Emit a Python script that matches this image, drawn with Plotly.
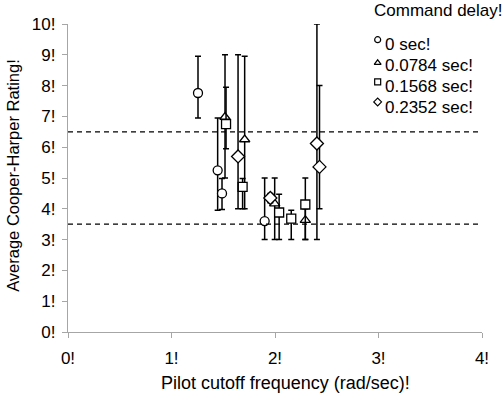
import plotly.graph_objects as go

# ---- data ----
series_names = ["0 sec!", "0.0784 sec!", "0.1568 sec!", "0.2352 sec!"]
series_symbols = ["circle", "triangle-up", "square", "diamond"]

x_0 = [1.256, 1.446, 1.488, 1.90]
y_0 = [7.76, 5.25, 4.50, 3.60]
hi_0 = [8.95, 6.95, 4.98, 5.00]
lo_0 = [6.95, 3.95, 3.98, 3.00]

x_1 = [1.517, 1.707, 1.997, 2.293]
y_1 = [6.98, 6.25, 4.17, 3.63]
hi_1 = [9.00, 8.95, 5.00, 4.00]
lo_1 = [5.00, 4.00, 3.00, 3.00]

x_2 = [1.527, 1.687, 2.040, 2.157, 2.293]
y_2 = [6.75, 4.71, 3.88, 3.68, 4.14]
hi_2 = [7.95, 4.98, 4.47, 3.95, 5.00]
lo_2 = [5.95, 4.00, 3.00, 3.00, 3.00]

x_3 = [1.643, 1.955, 2.405, 2.430]
y_3 = [5.70, 4.35, 6.12, 5.36]
hi_3 = [9.00, 4.50, 10.00, 8.00]
lo_3 = [4.00, 4.20, 3.00, 4.00]

x_ticks = [0, 1, 2, 3, 4]
x_ticktext = ["0!", "1!", "2!", "3!", "4!"]
y_ticks = list(range(0, 11))
y_ticktext = [f"{v}!" for v in y_ticks]
ref_lines = [6.5, 3.5]

legend_title = "Command delay!"
x_title = "Pilot cutoff frequency (rad/sec)!"
y_title = "Average Cooper-Harper Rating!"

FONT = "Liberation Sans, Arial, sans-serif"

fig = go.Figure()

all_series = [
    (x_0, y_0, hi_0, lo_0),
    (x_1, y_1, hi_1, lo_1),
    (x_2, y_2, hi_2, lo_2),
    (x_3, y_3, hi_3, lo_3),
]
marker_sizes = [9, 9, 9, 10]

for (xs, ys, hs, ls), name, sym, ms in zip(all_series, series_names, series_symbols, marker_sizes):
    fig.add_trace(go.Scatter(
        x=xs, y=ys, mode="markers", name=name, showlegend=False,
        marker=dict(symbol=sym, size=ms, color="white",
                    line=dict(color="black", width=1.3)),
        error_y=dict(type="data", symmetric=False,
                     array=[h - y for h, y in zip(hs, ys)],
                     arrayminus=[y - l for l, y in zip(ls, ys)],
                     color="black", thickness=1.5, width=3),
    ))

# reference dashed lines
for v in ref_lines:
    fig.add_trace(go.Scatter(
        x=[0, 4], y=[v, v], mode="lines", showlegend=False,
        line=dict(color="black", width=1.2, dash="5px,4px"),
    ))

# custom legend: symbols on an overlay axis in paper coordinates
leg_marker_y = [0.949, 0.874, 0.812, 0.747]
leg_text_y = [0.934, 0.864, 0.797, 0.729]
leg_marker_x = 0.748
leg_text_x = 0.761
for sym, my in zip(series_symbols, leg_marker_y):
    fig.add_trace(go.Scatter(
        x=[leg_marker_x], y=[my], xaxis="x2", yaxis="y2", mode="markers",
        showlegend=False, cliponaxis=False,
        marker=dict(symbol=sym, size=6, color="white",
                    line=dict(color="black", width=1.2)),
    ))

annotations = []
annotations.append(dict(text=legend_title, xref="paper", yref="paper",
                        x=0.734, y=1.045, xanchor="left", yanchor="middle",
                        showarrow=False, font=dict(size=17, color="black", family=FONT)))
for name, ty in zip(series_names, leg_text_y):
    annotations.append(dict(text=name, xref="paper", yref="paper",
                            x=leg_text_x, y=ty, xanchor="left", yanchor="middle",
                            showarrow=False, font=dict(size=17, color="black", family=FONT)))
annotations.append(dict(text=x_title, xref="paper", yref="paper",
                        x=0.525, y=-0.166, xanchor="center", yanchor="middle",
                        showarrow=False, font=dict(size=18, color="black", family=FONT)))
annotations.append(dict(text=y_title, xref="paper", yref="paper",
                        x=-0.133, y=0.51, xanchor="center", yanchor="middle",
                        textangle=-90,
                        showarrow=False, font=dict(size=16.5, color="black", family=FONT)))

fig.update_layout(
    width=503, height=402,
    margin=dict(l=68, r=21, t=24, b=70),
    paper_bgcolor="white", plot_bgcolor="white",
    font=dict(family=FONT, size=17, color="black"),
    showlegend=False,
    annotations=annotations,
    xaxis=dict(range=[0, 4], tickvals=x_ticks, ticktext=x_ticktext,
               showgrid=False, zeroline=False, showline=True,
               linecolor="#a6a6a6", linewidth=1.2,
               ticks="outside", ticklen=5, tickcolor="#a6a6a6", tickwidth=1.2,
               tickfont=dict(size=17, color="black"), ticklabelstandoff=5),
    yaxis=dict(range=[0, 10], tickvals=y_ticks, ticktext=y_ticktext,
               showgrid=False, zeroline=False, showline=True,
               linecolor="#a6a6a6", linewidth=1.2,
               ticks="outside", ticklen=5, tickcolor="#a6a6a6", tickwidth=1.2,
               tickfont=dict(size=17, color="black"), ticklabelstandoff=3),
    xaxis2=dict(range=[0, 1], overlaying="x", visible=False, fixedrange=True),
    yaxis2=dict(range=[0, 1], overlaying="y", visible=False, fixedrange=True),
)

fig.write_html("out.html")
